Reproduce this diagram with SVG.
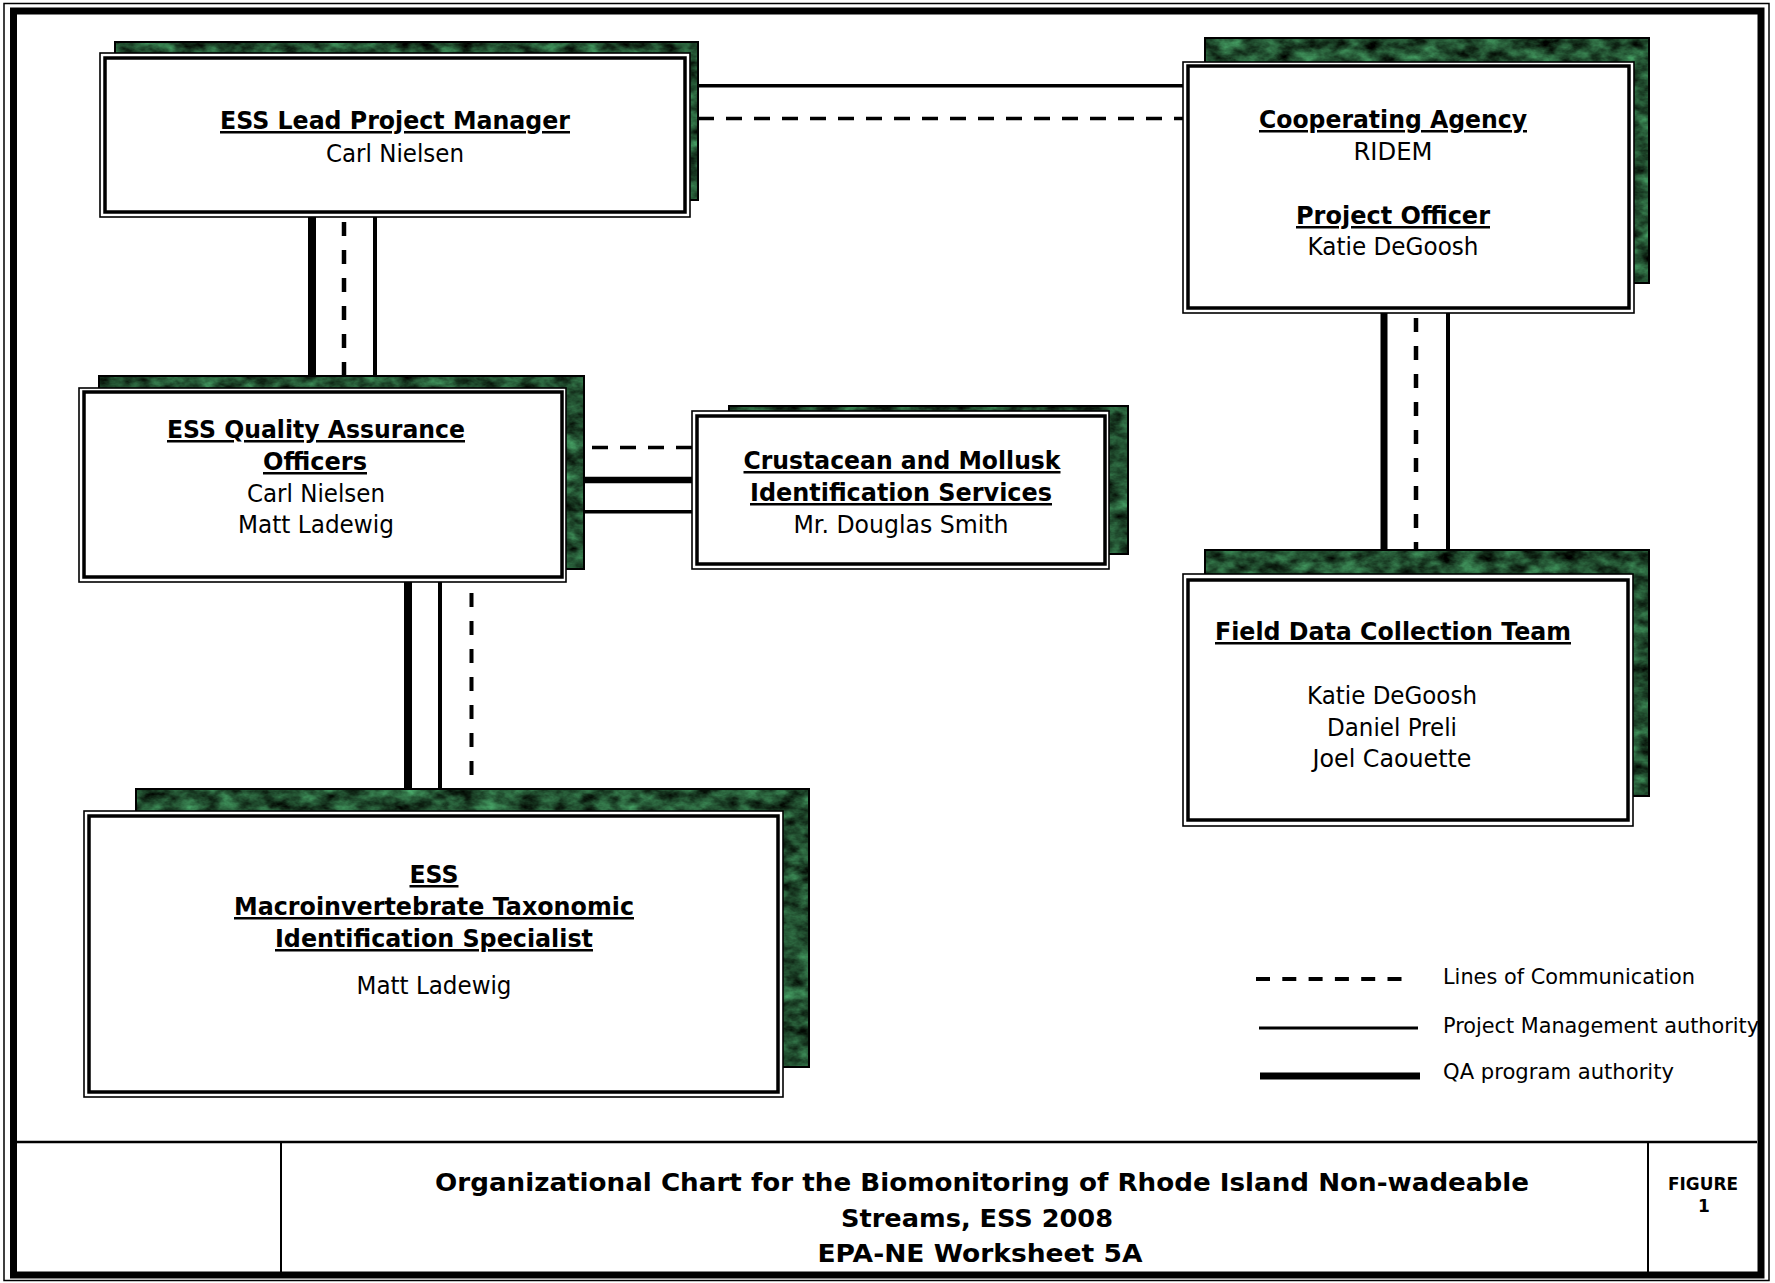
<svg xmlns="http://www.w3.org/2000/svg" width="1775" height="1283" viewBox="0 0 1775 1283">
<defs>
<filter id="marble" x="0" y="0" width="100%" height="100%" color-interpolation-filters="sRGB">
<feTurbulence type="fractalNoise" baseFrequency="0.05 0.08" numOctaves="4" seed="7" result="n"/>
<feColorMatrix in="n" type="matrix" values="0.38 0 0 0 -0.06  0.85 0 0 0 -0.12  0.55 0 0 0 -0.09  0 0 0 0 1" result="c"/>
<feComposite in="c" in2="SourceGraphic" operator="in"/>
</filter>
<style>
.sh{fill:#1f4f2c;filter:url(#marble)}
.shb{fill:none;stroke:#000;stroke-width:2}
.bo{fill:#fff;stroke:#000;stroke-width:1.6}
.bi{fill:none;stroke:#000;stroke-width:3.5}
.t{font-family:"DejaVu Sans","Liberation Sans",Verdana,sans-serif;font-size:25px;text-anchor:middle;fill:#000}
.b{font-weight:bold;text-decoration:underline}
.lg{font-family:"DejaVu Sans","Liberation Sans",Verdana,sans-serif;font-size:22px;fill:#000}
.ft{font-family:"DejaVu Sans","Liberation Sans",Verdana,sans-serif;font-size:25px;font-weight:bold;text-anchor:middle;fill:#000}
.ln{fill:none;stroke:#000}
.dh{stroke-dasharray:16 12}
.dv{stroke-dasharray:14 14}
</style>
</defs>
<rect width="1775" height="1283" fill="#fff"/>

<g id="connectors">
<line class="ln" x1="312" y1="217" x2="312" y2="376" stroke-width="8"/>
<line class="ln dv" x1="344" y1="222" x2="344" y2="375" stroke-width="4.5"/>
<line class="ln" x1="375" y1="217" x2="375" y2="376" stroke-width="4"/>
<line class="ln" x1="698" y1="85.7" x2="1183" y2="85.7" stroke-width="3.4"/>
<line class="ln dh" x1="698" y1="118.5" x2="1183" y2="118.5" stroke-width="3.4"/>
<line class="ln dh" x1="592" y1="447.5" x2="692" y2="447.5" stroke-width="3.4"/>
<line class="ln" x1="584" y1="480" x2="694" y2="480" stroke-width="6.7"/>
<line class="ln" x1="584" y1="511.7" x2="694" y2="511.7" stroke-width="3.4"/>
<line class="ln" x1="408" y1="582" x2="408" y2="789" stroke-width="8"/>
<line class="ln" x1="440" y1="582" x2="440" y2="789" stroke-width="4"/>
<line class="ln dv" x1="471.5" y1="593" x2="471.5" y2="777" stroke-width="4"/>
<line class="ln" x1="1384" y1="313" x2="1384" y2="550" stroke-width="7"/>
<line class="ln dv" x1="1416" y1="318" x2="1416" y2="550" stroke-width="4.5"/>
<line class="ln" x1="1448" y1="313" x2="1448" y2="550" stroke-width="4"/>
</g>

<g id="node-lead">
<rect class="sh" x="115" y="42" width="583" height="158"/>
<rect class="shb" x="115" y="42" width="583" height="158"/>
<rect class="bo" x="100" y="53" width="590" height="164"/>
<rect class="bi" x="105" y="58" width="580" height="154"/>
<text class="t b" x="395" y="129" textLength="350" lengthAdjust="spacingAndGlyphs">ESS Lead Project Manager</text>
<text class="t" x="395" y="162" textLength="138" lengthAdjust="spacingAndGlyphs">Carl Nielsen</text>
</g>

<g id="node-coop">
<rect class="sh" x="1205" y="38" width="444" height="245"/>
<rect class="shb" x="1205" y="38" width="444" height="245"/>
<rect class="bo" x="1183" y="62" width="451" height="251"/>
<rect class="bi" x="1188" y="66" width="441" height="242"/>
<text class="t b" x="1393" y="128" textLength="268" lengthAdjust="spacingAndGlyphs">Cooperating Agency</text>
<text class="t" x="1393" y="160" textLength="79" lengthAdjust="spacingAndGlyphs">RIDEM</text>
<text class="t b" x="1393" y="224" textLength="194" lengthAdjust="spacingAndGlyphs">Project Officer</text>
<text class="t" x="1393" y="255" textLength="171" lengthAdjust="spacingAndGlyphs">Katie DeGoosh</text>
</g>

<g id="node-qa">
<rect class="sh" x="99" y="376" width="485" height="193"/>
<rect class="shb" x="99" y="376" width="485" height="193"/>
<rect class="bo" x="79" y="388" width="487" height="194"/>
<rect class="bi" x="84" y="392" width="478" height="185"/>
<text class="t b" x="316" y="438" textLength="298" lengthAdjust="spacingAndGlyphs">ESS Quality Assurance</text>
<text class="t b" x="315" y="470" textLength="104" lengthAdjust="spacingAndGlyphs">Officers</text>
<text class="t" x="316" y="502" textLength="138" lengthAdjust="spacingAndGlyphs">Carl Nielsen</text>
<text class="t" x="316" y="533" textLength="156" lengthAdjust="spacingAndGlyphs">Matt Ladewig</text>
</g>

<g id="node-crustacean">
<rect class="sh" x="729" y="406" width="399" height="148"/>
<rect class="shb" x="729" y="406" width="399" height="148"/>
<rect class="bo" x="692" y="411" width="417" height="158"/>
<rect class="bi" x="697" y="416" width="408" height="148"/>
<text class="t b" x="902" y="469" textLength="317" lengthAdjust="spacingAndGlyphs">Crustacean and Mollusk</text>
<text class="t b" x="901" y="501" textLength="302" lengthAdjust="spacingAndGlyphs">Identification Services</text>
<text class="t" x="901" y="533" textLength="215" lengthAdjust="spacingAndGlyphs">Mr. Douglas Smith</text>
</g>

<g id="node-field">
<rect class="sh" x="1205" y="550" width="444" height="246"/>
<rect class="shb" x="1205" y="550" width="444" height="246"/>
<rect class="bo" x="1183" y="574" width="450" height="252"/>
<rect class="bi" x="1188" y="580" width="440" height="240"/>
<text class="t b" x="1393" y="640" textLength="356" lengthAdjust="spacingAndGlyphs">Field Data Collection Team</text>
<text class="t" x="1392" y="704" textLength="170" lengthAdjust="spacingAndGlyphs">Katie DeGoosh</text>
<text class="t" x="1392" y="736" textLength="130" lengthAdjust="spacingAndGlyphs">Daniel Preli</text>
<text class="t" x="1392" y="767" textLength="159" lengthAdjust="spacingAndGlyphs">Joel Caouette</text>
</g>

<g id="node-macro">
<rect class="sh" x="136" y="789" width="673" height="278"/>
<rect class="shb" x="136" y="789" width="673" height="278"/>
<rect class="bo" x="84" y="811" width="699" height="286"/>
<rect class="bi" x="89" y="816" width="689" height="276"/>
<text class="t b" x="434" y="883" textLength="49" lengthAdjust="spacingAndGlyphs">ESS</text>
<text class="t b" x="434" y="915" textLength="400" lengthAdjust="spacingAndGlyphs">Macroinvertebrate Taxonomic</text>
<text class="t b" x="434" y="947" textLength="318" lengthAdjust="spacingAndGlyphs">Identification Specialist</text>
<text class="t" x="434" y="994" textLength="155" lengthAdjust="spacingAndGlyphs">Matt Ladewig</text>
</g>

<g id="legend">
<line class="ln" x1="1256" y1="979" x2="1411" y2="979" stroke-width="4" stroke-dasharray="14 12.3"/>
<line class="ln" x1="1259" y1="1028" x2="1418" y2="1028" stroke-width="3"/>
<line class="ln" x1="1260" y1="1076" x2="1420" y2="1076" stroke-width="7"/>
<text class="lg" x="1443" y="983.5" textLength="252" lengthAdjust="spacingAndGlyphs">Lines of Communication</text>
<text class="lg" x="1443" y="1032.5" textLength="316" lengthAdjust="spacingAndGlyphs">Project Management authority</text>
<text class="lg" x="1443" y="1079" textLength="231" lengthAdjust="spacingAndGlyphs">QA program authority</text>
</g>

<g id="footer">
<line class="ln" x1="17" y1="1142" x2="1757" y2="1142" stroke-width="2.5"/>
<line class="ln" x1="281" y1="1142" x2="281" y2="1272" stroke-width="2"/>
<line class="ln" x1="1648" y1="1142" x2="1648" y2="1272" stroke-width="2"/>
<text class="ft" x="982" y="1191" textLength="1094" lengthAdjust="spacingAndGlyphs">Organizational Chart for the Biomonitoring of Rhode Island Non-wadeable</text>
<text class="ft" x="977" y="1227" textLength="272" lengthAdjust="spacingAndGlyphs">Streams, ESS 2008</text>
<text class="ft" x="980" y="1262" textLength="325" lengthAdjust="spacingAndGlyphs">EPA-NE Worksheet 5A</text>
<text class="ft" x="1703" y="1190" style="font-size:17px" textLength="70" lengthAdjust="spacingAndGlyphs">FIGURE</text>
<text class="ft" x="1704" y="1212" style="font-size:17px">1</text>
</g>

<g id="frame">
<rect x="4" y="3.5" width="1765" height="1277" fill="none" stroke="#000" stroke-width="1.5"/>
<rect x="13.5" y="11" width="1747.5" height="1264" fill="none" stroke="#000" stroke-width="7"/>
</g>
</svg>
